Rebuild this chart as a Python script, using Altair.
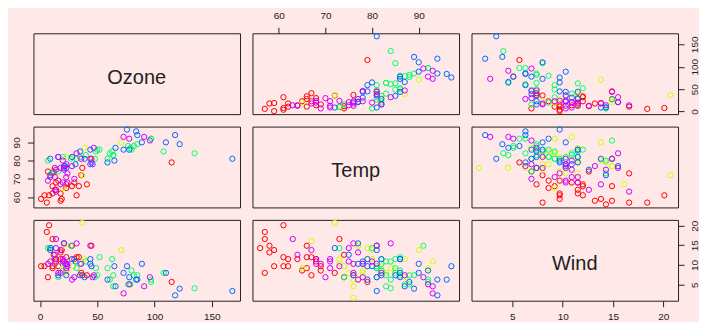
import altair as alt
import pandas as pd

# ---- data (airquality, read from the scatterplot matrix) ----
months = [5] * 31 + [6] * 30 + [7] * 31 + [8] * 31 + [9] * 30

ozone = [
    # May
    41, 36, 12, 18, None, 28, 23, 19, 8, None, 7, 16, 11, 14, 18, 14, 34, 6, 30, 11,
    1, 11, 4, 32, None, None, None, 23, 45, 115, 37,
    # June
    None, None, None, None, None, None, 29, None, 71, 39, None, None, 23, None, None,
    21, 37, 20, 12, 13, None, None, None, None, None, None, None, None, None, None,
    # July
    135, 49, 32, None, 64, 40, 77, 97, 97, 85, None, 10, 27, None, 7, 48, 35, 61, 79, 63,
    16, None, None, 80, 108, 20, 52, 82, 50, 64, 59,
    # August
    39, 9, 16, 78, 35, 66, 122, 89, 110, None, None, 44, 28, 65, None, 22, 59, 23, 31, 44,
    21, 9, None, 45, 168, 73, None, 76, 118, 84, 85,
    # September
    96, 78, 73, 91, 47, 32, 20, 23, 21, 24, 44, 21, 28, 9, 13, 46, 18, 13, 24, 16,
    13, 23, 36, 7, 14, 30, None, 14, 18, 20,
]

temp = [
    67, 72, 74, 62, 56, 66, 65, 59, 61, 69, 74, 69, 66, 68, 58, 64, 66, 57, 68, 62,
    59, 73, 61, 61, 57, 58, 57, 67, 81, 79, 76,
    78, 74, 67, 84, 85, 79, 82, 87, 90, 87, 93, 92, 82, 80, 79, 77, 72, 65, 73, 76,
    77, 76, 76, 76, 75, 78, 73, 80, 77, 83,
    84, 85, 81, 84, 83, 83, 88, 92, 92, 89, 82, 73, 81, 91, 80, 81, 82, 84, 87, 85,
    74, 81, 82, 86, 85, 82, 86, 88, 86, 83, 81,
    81, 81, 82, 86, 85, 87, 89, 90, 90, 92, 86, 86, 82, 80, 79, 77, 79, 76, 78, 78,
    77, 72, 75, 79, 81, 86, 88, 97, 94, 96, 94,
    91, 92, 93, 93, 87, 84, 80, 78, 75, 73, 81, 76, 77, 71, 71, 78, 67, 76, 68, 82,
    64, 71, 81, 69, 63, 70, 77, 75, 76, 68,
]

wind = [
    7.4, 8.0, 12.6, 11.5, 14.3, 14.9, 8.6, 13.8, 20.1, 8.6, 6.9, 9.7, 9.2, 10.9, 13.2,
    11.5, 12.0, 18.4, 11.5, 9.7, 9.7, 16.6, 9.7, 12.0, 16.6, 14.9, 8.0, 12.0, 14.9, 5.7, 7.4,
    8.6, 9.7, 16.1, 9.2, 8.6, 14.3, 9.7, 6.9, 13.8, 11.5, 10.9, 9.2, 8.0, 13.8, 11.5,
    14.9, 20.7, 9.2, 11.5, 10.3, 6.3, 1.7, 4.6, 6.3, 8.0, 8.0, 10.3, 11.5, 14.9, 8.0,
    4.1, 9.2, 9.2, 10.9, 4.6, 10.9, 5.1, 6.3, 5.7, 7.4, 8.6, 14.3, 14.9, 14.9, 14.3,
    6.9, 10.3, 6.3, 5.1, 11.5, 6.9, 9.7, 11.5, 8.6, 8.0, 8.6, 12.0, 7.4, 7.4, 7.4, 9.2,
    6.9, 13.8, 7.4, 6.9, 7.4, 4.6, 4.0, 10.3, 8.0, 8.6, 11.5, 11.5, 11.5, 9.7, 11.5,
    10.3, 6.3, 7.4, 10.9, 10.3, 15.5, 14.3, 12.6, 9.7, 3.4, 8.0, 5.7, 9.7, 2.3, 6.3, 6.3,
    6.9, 5.1, 2.8, 4.6, 7.4, 15.5, 10.9, 10.3, 10.9, 9.7, 14.9, 15.5, 6.3, 10.9, 11.5,
    6.9, 13.8, 10.3, 10.3, 8.0, 12.6, 9.2, 10.3, 10.3, 16.6, 6.9, 13.2, 14.3, 8.0, 11.5,
]

var_names = ["Ozone", "Temp", "Wind"]
month_levels = [5, 6, 7, 8, 9]
month_colors = ["#FF0000", "#CCFF00", "#00FF66", "#0066FF", "#CC00FF"]
ozone_ticks = [0, 50, 100, 150]
temp_ticks = [60, 70, 80, 90]
wind_ticks = [5, 10, 15, 20]

df = pd.DataFrame({"Ozone": ozone, "Temp": temp, "Wind": wind, "Month": months})


def rdomain(vals):
    v = [x for x in vals if x is not None]
    lo, hi = min(v), max(v)
    r = hi - lo
    return [lo - 0.04 * r, hi + 0.04 * r]


domains = {"Ozone": rdomain(ozone), "Temp": rdomain(temp), "Wind": rdomain(wind)}
ticks = {"Ozone": ozone_ticks, "Temp": temp_ticks, "Wind": wind_ticks}

W, H = 207, 81
BG = "#FFE8E8"
INK = "#222222"
LABEL_FONT = "Liberation Sans, Arial, sans-serif"
DIAG_FONT = "Liberation Sans Narrow, Arial Narrow, Liberation Sans, Arial, sans-serif"


def make_axis(name, orient):
    if orient is None:
        return None
    base = dict(
        values=ticks[name], orient=orient, title=None, grid=False, domain=False,
        ticks=True, tickSize=6, tickColor=INK, tickWidth=1,
        labelFont=LABEL_FONT, labelFontSize=10, labelColor=INK,
        labelOverlap=False, labelFlush=False,
    )
    if orient == "top":
        base.update(labelAngle=0, labelAlign="center", labelBaseline="bottom", labelPadding=7)
    elif orient == "bottom":
        base.update(labelAngle=0, labelAlign="center", labelBaseline="top", labelPadding=5)
    elif orient == "left":
        base.update(labelAngle=270, labelAlign="center", labelBaseline="bottom", labelPadding=6)
    else:
        base.update(labelAngle=270, labelAlign="center", labelBaseline="top", labelPadding=5)
    return alt.Axis(**base)


axes_spec = {
    (0, 1): ("top", None),
    (0, 2): (None, "right"),
    (1, 0): (None, "left"),
    (2, 0): ("bottom", None),
    (2, 2): ("bottom", "right"),
}


def enc_x(name, orient):
    return alt.X(
        f"{name}:Q",
        scale=alt.Scale(domain=domains[name], nice=False, zero=False),
        axis=make_axis(name, orient),
    )


def enc_y(name, orient):
    return alt.Y(
        f"{name}:Q",
        scale=alt.Scale(domain=domains[name], nice=False, zero=False),
        axis=make_axis(name, orient),
    )


color = alt.Color(
    "Month:N",
    scale=alt.Scale(domain=month_levels, range=month_colors),
    legend=None,
)


def points(xv, yv, xo, yo, hidden=False):
    cols = [xv, yv, "Month"] if xv != yv else [xv, "Month"]
    sub = df[cols].dropna()
    mark = alt.Chart(sub).mark_point(
        shape="circle", filled=False, size=28, strokeWidth=1,
        opacity=0 if hidden else 1,
    )
    return mark.encode(x=enc_x(xv, xo), y=enc_y(yv, yo), color=color).properties(
        width=W, height=H
    )


def diag_text(name):
    return alt.Chart(pd.DataFrame({"label": [name]})).mark_text(
        font=DIAG_FONT, fontSize=20, color=INK, align="center", baseline="middle", dy=4
    ).encode(
        x=alt.value(W / 2), y=alt.value(H / 2), text="label:N"
    ).properties(width=W, height=H)


panels = []
for r, yv in enumerate(var_names):
    for c, xv in enumerate(var_names):
        xo, yo = axes_spec.get((r, c), (None, None))
        if r == c:
            if xo or yo:
                panels.append(alt.layer(points(xv, yv, xo, yo, hidden=True), diag_text(yv)))
            else:
                panels.append(diag_text(yv))
        else:
            panels.append(points(xv, yv, xo, yo))

chart = (
    alt.concat(*panels, columns=3, spacing={"row": 12.5, "column": 12.5}, bounds="flush")
    .resolve_scale(x="independent", y="independent")
    .properties(padding={"left": 2.5, "top": 1, "right": -1, "bottom": -1})
    .configure(background=BG)
    .configure_view(stroke=INK, strokeWidth=1)
)

chart.save("out.html", embed_options={"renderer": "svg", "actions": False})
